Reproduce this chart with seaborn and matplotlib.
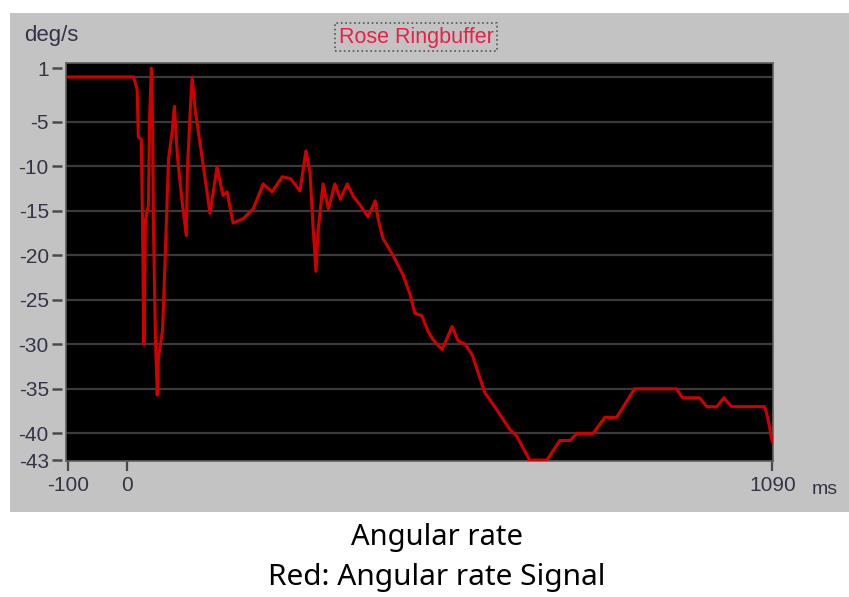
import numpy as np
import pandas as pd
import matplotlib
matplotlib.use('Agg')
import matplotlib.pyplot as plt
import matplotlib.transforms as mtransforms
from matplotlib.patches import Rectangle
import seaborn as sns

# angular rate signal
time_ms = [-100, 11, 17, 19, 24, 26, 27.5, 28.5, 31, 36,
           38, 41, 43, 44.5, 48, 51, 53, 60, 65, 70,
           76, 80, 85, 93, 100, 102, 107, 110, 115, 124,
           135, 140, 152, 162, 169, 179, 196, 213, 230, 245,
           262, 276, 292, 302, 309, 314, 319, 323, 331, 340,
           351, 360, 372, 382, 394, 407, 419, 424, 432, 449,
           466, 478, 486, 498, 508, 517, 532, 549, 559, 571,
           583, 604, 625, 647, 658, 680, 709, 731, 748, 760,
           787, 807, 827, 857, 928, 938, 967, 979, 996, 1008,
           1021, 1077, 1082, 1090]
rate = [0, 0, -1.4, -6.7, -7, -16, -25, -30, -16, -14.4,
        -4.8, 1, -5, -16.7, -29.6, -35.7, -31.4, -28.4, -19, -9.2,
        -6.2, -3.3, -8.9, -14, -17.8, -10.3, -3.3, 0, -3.7, -7.8,
        -12.9, -15.3, -10.1, -13.3, -12.9, -16.4, -15.9, -14.8, -12, -12.9,
        -11.2, -11.4, -12.8, -8.3, -10.7, -16.7, -21.8, -17, -12, -14.8,
        -12, -13.7, -12, -13.4, -14.4, -15.7, -13.9, -15.9, -18.1, -20,
        -22.2, -24.4, -26.5, -26.8, -28.5, -29.5, -30.6, -28, -29.6, -30,
        -31.2, -35.4, -37.4, -39.6, -40.3, -43, -43, -40.8, -40.8, -40,
        -40, -38.2, -38.2, -35, -35, -36, -36, -37, -37, -36,
        -37, -37, -38.2, -41]

y_ticks = [1, -5, -10, -15, -20, -25, -30, -35, -40, -43]
grid_lines = [0, -5, -10, -15, -20, -25, -30, -35, -40]
x_ticks = [-100, 0, 1090]

df = pd.DataFrame({'ms': time_ms, 'rate': rate})

sns.set_style('ticks')
plt.rcParams['font.family'] = ['Liberation Sans', 'DejaVu Sans']

W, H = 849, 597
fig = plt.figure(figsize=(W / 100, H / 100), dpi=100)
fig.patch.set_facecolor('white')

# gray instrument panel
fig.patches.append(Rectangle((10 / W, 1 - 512 / H), 1, (512 - 13) / H,
                             transform=fig.transFigure, facecolor='#c3c3c3',
                             edgecolor='none', zorder=-10))

ax = fig.add_axes([65.5 / W, 1 - 461 / H, (773 - 65.5) / W, (461 - 63) / H])
ax.set_zorder(5)
ax.set_facecolor('black')

for g in grid_lines:
    ax.axhline(g, color='#3a3a3a', lw=1.6, zorder=1)

sns.lineplot(data=df, x='ms', y='rate', ax=ax, color='#d00000', lw=2.2,
             estimator=None, sort=False, zorder=3)

ax.set_xlim(-104, 1091)
ax.set_ylim(-43.1, 1.57)
ax.set_yticks(y_ticks)
ax.set_yticklabels([str(v) for v in y_ticks])
ax.set_xticks(x_ticks)
ax.set_xticklabels([str(v) for v in x_ticks])
ax.grid(False)
ax.tick_params(axis='both', which='major', colors='#4a4a4a',
               labelcolor='#343448', labelsize=15, width=1.6,
               direction='out')
ax.tick_params(axis='x', length=7, pad=4, bottom=True)
ax.tick_params(axis='y', length=0, pad=12)

# scope-style short dashes next to the y labels, detached from the frame
trans = mtransforms.blended_transform_factory(ax.transAxes, ax.transData)
for v in y_ticks:
    ax.plot([-0.0185, -0.005], [v, v], transform=trans, color='#4a4a4a',
            lw=1.8, clip_on=False, solid_capstyle='butt')

ax.set_xlabel('')
ax.set_ylabel('')
for s in ax.spines.values():
    s.set_visible(True)
    s.set_color('#606060')
    s.set_linewidth(1.2)

fig.text(51 / W, 1 - 36 / H, 'deg/s', ha='center', va='center',
         fontsize=16, color='#343448')
fig.text(825 / W, 1 - 490 / H, 'ms', ha='center', va='center',
         fontsize=14, color='#343448')
fig.text(416 / W, 1 - 37 / H, 'Rose Ringbuffer', ha='center', va='center',
         fontsize=15.5, color='#e8204a',
         bbox=dict(boxstyle='square,pad=0.15', facecolor='none',
                   edgecolor='#555555', linestyle=':', lw=1.2))

fig.text(437 / W, 1 - 538 / H, 'Angular rate', ha='center', va='center',
         fontsize=21, color='black', family=['Noto Sans', 'DejaVu Sans'])
fig.text(437 / W, 1 - 578 / H, 'Red: Angular rate Signal', ha='center',
         va='center', fontsize=21.5, color='black',
         family=['Noto Sans', 'DejaVu Sans'])

fig.savefig('out.png', dpi=100)
